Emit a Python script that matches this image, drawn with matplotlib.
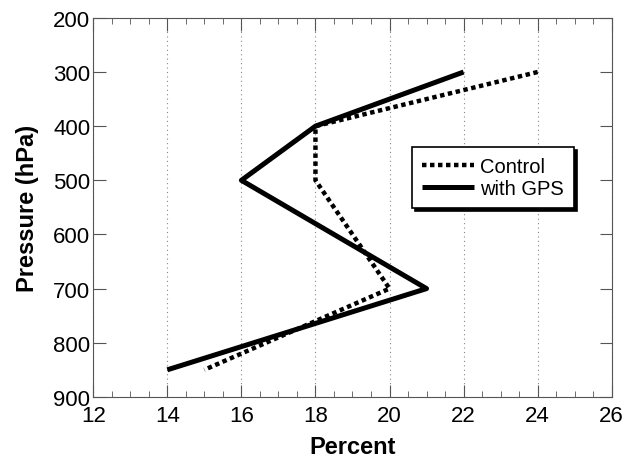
import matplotlib
matplotlib.use("Agg")
import matplotlib.pyplot as plt
from matplotlib.ticker import MultipleLocator

plt.rcParams['font.family'] = ['Liberation Sans', 'DejaVu Sans']

pressure = [300, 400, 500, 700, 850]
control = [24, 18, 18, 20, 15]
with_gps = [22, 18, 16, 21, 14]

fig = plt.figure(figsize=(6.3, 4.6), dpi=100)
ax = fig.add_axes([0.148, 0.135, 0.823, 0.824])

ax.plot(control, pressure, color='black', linewidth=3.2,
        linestyle=(0, (1, 0.8)), label='Control')
ax.plot(with_gps, pressure, color='black', linewidth=3.6,
        solid_capstyle='butt', label='with GPS')

ax.set_xlim(12, 26)
ax.set_ylim(900, 200)
ax.xaxis.set_major_locator(MultipleLocator(2))
ax.xaxis.set_minor_locator(MultipleLocator(0.5))
ax.yaxis.set_major_locator(MultipleLocator(100))
ax.tick_params(axis='both', which='both', direction='in', top=True, right=True,
               labelsize=16, color='#555555')
ax.tick_params(which='major', length=9, width=0.8)
ax.tick_params(which='minor', length=4, width=0.6)
ax.tick_params(axis='x', pad=6)
ax.tick_params(axis='y', pad=2)
ax.grid(axis='x', which='major', linestyle=(0, (1, 3)), color='#888888', linewidth=0.8)
for s in ax.spines.values():
    s.set_linewidth(0.8)
    s.set_color('#555555')

ax.set_xlabel('Percent', fontsize=17, fontweight='bold', labelpad=6)
ax.set_ylabel('Pressure (hPa)', fontsize=17, fontweight='bold', labelpad=10)

leg = ax.legend(loc='upper left', bbox_to_anchor=(0.595, 0.685), fontsize=14.5,
                frameon=True, fancybox=False, shadow={'color': 'black', 'alpha': 1},
                handlelength=2.6, handletextpad=0.3, borderpad=0.5,
                labelspacing=0.15, framealpha=1)
leg.get_frame().set_edgecolor('black')
leg.get_frame().set_linewidth(1.2)

fig.savefig('out.png', dpi=100)
